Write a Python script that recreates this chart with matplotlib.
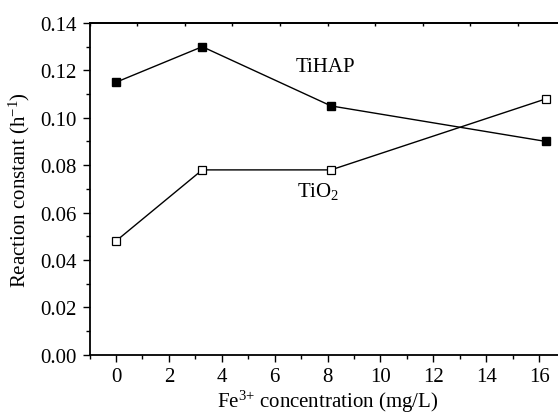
import numpy as np
import matplotlib
matplotlib.use('Agg')
from matplotlib import pyplot as plt
from matplotlib.ticker import MultipleLocator

# data
fe_conc = [0, 3.26, 8.13, 16.26]
k_tihap = [0.115, 0.130, 0.105, 0.090]
k_tio2 = [0.048, 0.078, 0.078, 0.108]

plt.rcParams['font.family'] = ['Liberation Serif', 'DejaVu Serif']
plt.rcParams['mathtext.default'] = 'regular'

fig = plt.figure(figsize=(5.58, 4.14), dpi=100)
# axes runs a bit past the right edge of the figure (no right spine visible)
ax = fig.add_axes([89.6/558, 1 - 355.7/414, 476/558, 331.7/414])

ax.plot(fe_conc, k_tihap, color='black', lw=1.0, marker='s', ms=5.5,
        mfc='black', mec='black', clip_on=False)
ax.plot(fe_conc, k_tio2, color='black', lw=1.0, marker='s', ms=5.5,
        mfc='white', mec='black', mew=0.9, clip_on=False)

ax.set_xlim(-1, 17)
ax.set_ylim(0, 0.14)
ax.xaxis.set_major_locator(MultipleLocator(2))
ax.xaxis.set_minor_locator(MultipleLocator(1))
ax.yaxis.set_major_locator(MultipleLocator(0.02))
ax.yaxis.set_minor_locator(MultipleLocator(0.01))
ax.set_xticks(np.arange(0, 17, 2))
ax.yaxis.set_major_formatter(matplotlib.ticker.FormatStrFormatter('%.2f'))

ax.spines['right'].set_visible(False)
for s in ['left', 'bottom', 'top']:
    ax.spines[s].set_linewidth(1.3)

ax.tick_params(which='major', direction='out', length=5, width=1.0,
               labelsize=15, pad=4)
ax.tick_params(which='minor', direction='out', length=3, width=1.0)
ax.tick_params(top=False, right=False, which='both')

# top axis ticks (independent scale)
top = ax.twiny()
top.set_xlim(0, 10)
top.set_xticks(np.arange(0, 11, 1))
top.tick_params(axis='x', direction='in', length=2.5, width=1.0,
                labeltop=False, top=True)
for s in ['right', 'left', 'bottom']:
    top.spines[s].set_visible(False)
top.spines['top'].set_linewidth(1.3)

ax.text(6.8, 0.1215, 'TiHAP', fontsize=15, ha='left', va='center')
ax.text(6.85, 0.0695, 'TiO$_\\mathregular{2}$', fontsize=15, ha='left', va='center')

ax.set_xlabel('Fe$^\\mathregular{3{+}}$ concentration (mg/L)', fontsize=15, labelpad=1)
ax.set_ylabel('Reaction constant (h$^\\mathregular{-1}$)', fontsize=15, labelpad=6)

plt.savefig('out.png', dpi=100)
